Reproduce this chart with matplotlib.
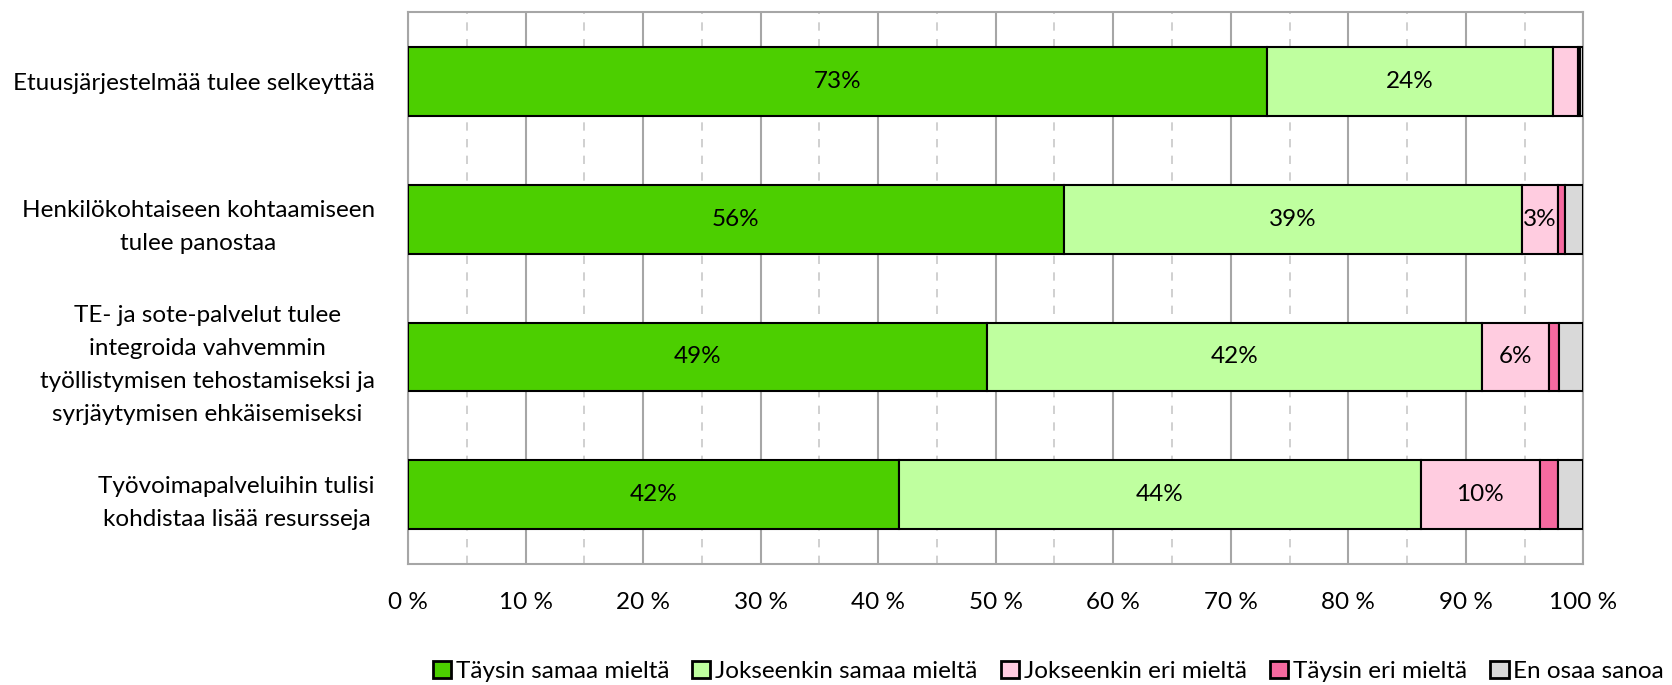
import matplotlib.pyplot as plt
from matplotlib.ticker import MultipleLocator, FuncFormatter
import numpy as np

plt.rcParams['font.family'] = ['Lato', 'DejaVu Sans']

categories = [
    'Etuusjärjestelmää tulee selkeyttää',
    'Henkilökohtaiseen kohtaamiseen\ntulee panostaa',
    'TE- ja sote-palvelut tulee\nintegroida vahvemmin\ntyöllistymisen tehostamiseksi ja\nsyrjäytymisen ehkäisemiseksi',
    'Työvoimapalveluihin tulisi\nkohdistaa lisää resursseja',
]
series_names = ['Täysin samaa mieltä', 'Jokseenkin samaa mieltä', 'Jokseenkin eri mieltä',
                'Täysin eri mieltä', 'En osaa sanoa']
taysin_samaa = [73.1, 55.8, 49.3, 41.8]
jokseenkin_samaa = [24.3, 38.95, 42.1, 44.35]
jokseenkin_eri = [2.1, 3.1, 5.7, 10.15]
taysin_eri = [0.2, 0.6, 0.8, 1.55]
en_osaa = [0.3, 1.55, 2.1, 2.15]
colors = ['#4CCF00', '#BFFF9F', '#FFCCE0', '#F66AA0', '#D9D9D9']

values = [taysin_samaa, jokseenkin_samaa, jokseenkin_eri, taysin_eri, en_osaa]
labelled = [True, True, True, False, False]

fig = plt.figure(figsize=(16.72, 6.85), dpi=100)
ax = fig.add_axes([0.244, 0.177, 0.703, 0.805])

y = np.arange(len(categories))
left = np.zeros(len(categories))
for name, vals, col, lab in zip(series_names, values, colors, labelled):
    vals = np.array(vals)
    bars = ax.barh(y, vals, left=left, height=0.5, color=col, edgecolor='black',
                   linewidth=1.5, label=name, zorder=3)
    if lab:
        for b, v in zip(bars, vals):
            if v >= 3:
                ax.text(b.get_x() + b.get_width() / 2, b.get_y() + b.get_height() / 2,
                        f'{v:.0f}%', ha='center', va='center', fontsize=17.5, zorder=4)
    left += vals

ax.set_xlim(0, 100)
ax.set_ylim(len(categories) - 0.5, -0.5)
ax.xaxis.set_major_locator(MultipleLocator(10))
ax.xaxis.set_minor_locator(MultipleLocator(5))
ax.xaxis.set_major_formatter(FuncFormatter(lambda v, p: f'{v:.0f} %'))
ax.grid(axis='x', which='major', color='#A6A6A6', linewidth=1.5, zorder=0)
ax.grid(axis='x', which='minor', color='#C8C8C8', linewidth=1.2, linestyle=(0, (5, 5)), zorder=0)
ax.set_yticks(y)
ax.set_yticklabels(categories, fontsize=17.5)
for t in ax.get_yticklabels():
    t.set_multialignment('center')
    t.set_linespacing(1.7)
ax.tick_params(axis='both', which='both', length=0)
ax.tick_params(axis='y', pad=24)
ax.tick_params(axis='x', pad=20, labelsize=17.5)
for s in ax.spines.values():
    s.set_color('#A6A6A6')
    s.set_linewidth(1.5)

leg = fig.legend(loc='center', bbox_to_anchor=(0.627, 0.02), ncol=5, frameon=False,
                 fontsize=17.5, handlelength=0.75, handleheight=0.75, handletextpad=0.2,
                 columnspacing=0.95, borderpad=0)
for h in leg.legend_handles:
    h.set_linewidth(2)

fig.savefig('out.png', dpi=100)
